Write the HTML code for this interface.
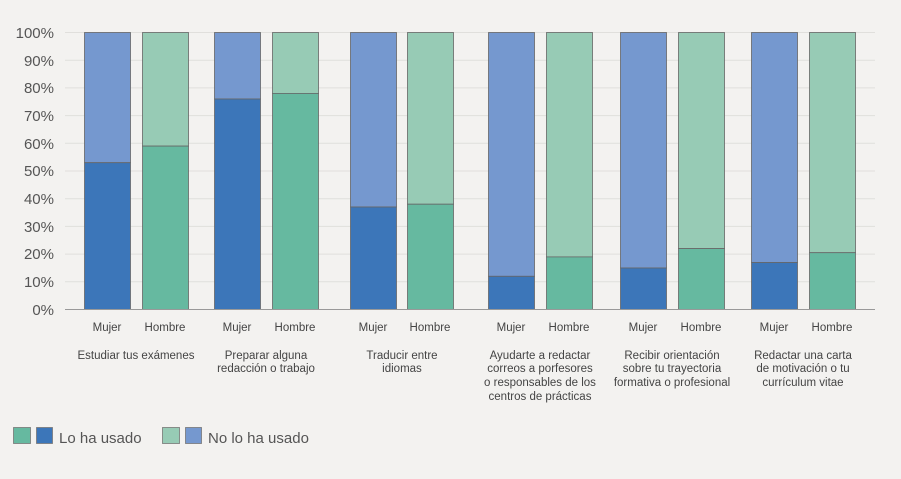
<!DOCTYPE html><html><head><style>body{margin:0;background:#f3f2f0}</style></head><body>
<svg width="901" height="474" viewBox="0 0 901 474" xmlns="http://www.w3.org/2000/svg" font-family="Liberation Sans, sans-serif">
<rect width="901" height="474" fill="#f3f2f0"/>
<g stroke="#e0dfdc" stroke-width="1">
<line x1="65" x2="875" y1="32.5" y2="32.5"/><line x1="65" x2="875" y1="60.2" y2="60.2"/><line x1="65" x2="875" y1="87.9" y2="87.9"/><line x1="65" x2="875" y1="115.6" y2="115.6"/><line x1="65" x2="875" y1="143.3" y2="143.3"/><line x1="65" x2="875" y1="171" y2="171"/><line x1="65" x2="875" y1="198.7" y2="198.7"/><line x1="65" x2="875" y1="226.4" y2="226.4"/><line x1="65" x2="875" y1="254.1" y2="254.1"/><line x1="65" x2="875" y1="281.8" y2="281.8"/>
</g>
<g font-size="15" fill="#555" text-anchor="end">
<text x="54" y="38">100%</text><text x="54" y="66">90%</text><text x="54" y="93">80%</text><text x="54" y="121">70%</text><text x="54" y="149">60%</text><text x="54" y="176">50%</text><text x="54" y="204">40%</text><text x="54" y="232">30%</text><text x="54" y="259">20%</text><text x="54" y="287">10%</text><text x="54" y="315">0%</text>
</g>
<g stroke="#666" stroke-width="0.8">
<!-- y(v)=309.5-2.77v -->
<rect x="84.5" y="32.5" width="46" height="130.2" fill="#7598cf"/><rect x="84.5" y="162.7" width="46" height="146.8" fill="#3c76b9"/>
<rect x="142.5" y="32.5" width="46" height="113.6" fill="#97cbb5"/><rect x="142.5" y="146.1" width="46" height="163.4" fill="#66b9a0"/>
<rect x="214.5" y="32.5" width="46" height="66.5" fill="#7598cf"/><rect x="214.5" y="99" width="46" height="210.5" fill="#3c76b9"/>
<rect x="272.5" y="32.5" width="46" height="60.9" fill="#97cbb5"/><rect x="272.5" y="93.4" width="46" height="216.1" fill="#66b9a0"/>
<rect x="350.5" y="32.5" width="46" height="174.5" fill="#7598cf"/><rect x="350.5" y="207" width="46" height="102.5" fill="#3c76b9"/>
<rect x="407.5" y="32.5" width="46" height="171.7" fill="#97cbb5"/><rect x="407.5" y="204.2" width="46" height="105.3" fill="#66b9a0"/>
<rect x="488.5" y="32.5" width="46" height="243.8" fill="#7598cf"/><rect x="488.5" y="276.3" width="46" height="33.2" fill="#3c76b9"/>
<rect x="546.5" y="32.5" width="46" height="224.4" fill="#97cbb5"/><rect x="546.5" y="256.9" width="46" height="52.6" fill="#66b9a0"/>
<rect x="620.5" y="32.5" width="46" height="235.5" fill="#7598cf"/><rect x="620.5" y="268" width="46" height="41.5" fill="#3c76b9"/>
<rect x="678.5" y="32.5" width="46" height="216.1" fill="#97cbb5"/><rect x="678.5" y="248.6" width="46" height="60.9" fill="#66b9a0"/>
<rect x="751.5" y="32.5" width="46" height="230" fill="#7598cf"/><rect x="751.5" y="262.5" width="46" height="47" fill="#3c76b9"/>
<rect x="809.5" y="32.5" width="46" height="220.2" fill="#97cbb5"/><rect x="809.5" y="252.7" width="46" height="56.8" fill="#66b9a0"/>
</g>
<line x1="65" x2="875" y1="309.5" y2="309.5" stroke="#999" stroke-width="1"/>
<g font-size="11.5" fill="#444" text-anchor="middle">
<text x="107" y="331">Mujer</text><text x="165" y="331">Hombre</text>
<text x="237" y="331">Mujer</text><text x="295" y="331">Hombre</text>
<text x="373" y="331">Mujer</text><text x="430" y="331">Hombre</text>
<text x="511" y="331">Mujer</text><text x="569" y="331">Hombre</text>
<text x="643" y="331">Mujer</text><text x="701" y="331">Hombre</text>
<text x="774" y="331">Mujer</text><text x="832" y="331">Hombre</text>
<text x="136" y="359">Estudiar tus exámenes</text>
<text x="266" y="359">Preparar alguna</text><text x="266" y="372">redacción o trabajo</text>
<text x="402" y="359">Traducir entre</text><text x="402" y="372">idiomas</text>
<text x="540" y="359">Ayudarte a redactar</text><text x="540" y="372">correos a porfesores</text><text x="540" y="386">o responsables de los</text><text x="540" y="400">centros de prácticas</text>
<text x="672" y="359">Recibir orientación</text><text x="672" y="372">sobre tu trayectoria</text><text x="672" y="386">formativa o profesional</text>
<text x="803" y="359">Redactar una carta</text><text x="803" y="372">de motivación o tu</text><text x="803" y="386">currículum vitae</text>
</g>
<g stroke="#777" stroke-width="0.8">
<rect x="13.5" y="427.5" width="17" height="16" fill="#66b9a0"/><rect x="36.5" y="427.5" width="16" height="16" fill="#3c76b9"/>
<rect x="162.5" y="427.5" width="17" height="16" fill="#97cbb5"/><rect x="185.5" y="427.5" width="16" height="16" fill="#7598cf"/>
</g>
<g font-size="15" fill="#555"><text x="59" y="443">Lo ha usado</text><text x="208" y="443">No lo ha usado</text></g>
</svg></body></html>
